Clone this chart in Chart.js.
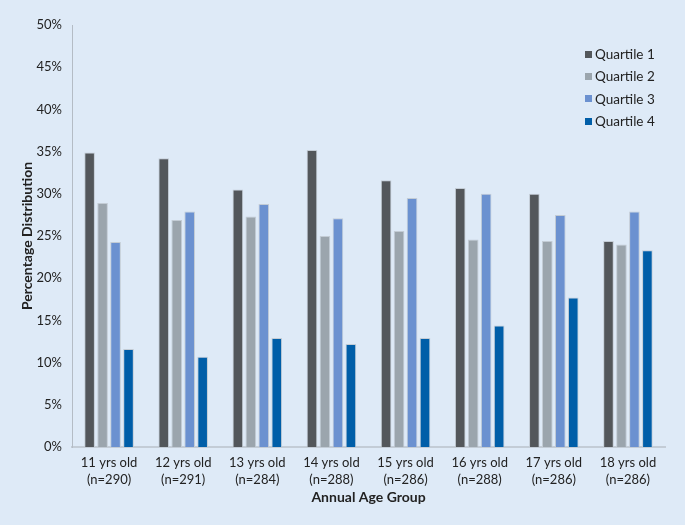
<!DOCTYPE html>
<html>
<head>
<meta charset="utf-8">
<script src="https://cdn.jsdelivr.net/npm/chart.js@4/dist/chart.umd.min.js"></script>
<style>
    html, body { margin: 0; padding: 0; background: #deeaf7; }
    #wrap { position: relative; width: 685px; height: 525px; }
    #legend { position: absolute; left: 585px; top: 43px; font-family: 'Lato', sans-serif; font-size: 13.5px; color: #222; }
    #legend div { height: 22.3px; display: flex; align-items: center; }
    #legend span.box { display: inline-block; width: 7px; height: 7px; margin-right: 3px; }
</style>
</head>
<body>
<div id="wrap">
    <canvas id="chart" width="685" height="525"></canvas>
    <div id="legend"></div>
</div>
<script>
// Data
const ageGroups = ['11 yrs old', '12 yrs old', '13 yrs old', '14 yrs old', '15 yrs old', '16 yrs old', '17 yrs old', '18 yrs old'];
const sampleSizes = ['(n=290)', '(n=291)', '(n=284)', '(n=288)', '(n=286)', '(n=288)', '(n=286)', '(n=286)'];
const quartile1 = [34.9, 34.2, 30.5, 35.2, 31.6, 30.7, 30.0, 24.4];
const quartile2 = [28.9, 26.9, 27.3, 25.0, 25.6, 24.6, 24.4, 24.0];
const quartile3 = [24.3, 27.9, 28.8, 27.1, 29.5, 30.0, 27.5, 27.9];
const quartile4 = [11.6, 10.7, 12.9, 12.2, 12.9, 14.4, 17.7, 23.3];
const yTicks = [0, 5, 10, 15, 20, 25, 30, 35, 40, 45, 50];

const seriesNames = ['Quartile 1', 'Quartile 2', 'Quartile 3', 'Quartile 4'];
const seriesColors = ['#53575b', '#9ba5ad', '#6b91d0', '#005ea8'];
const seriesData = [quartile1, quartile2, quartile3, quartile4];

const fontFamily = "'Lato', sans-serif";
const textColor = '#222';

const datasets = seriesNames.map((name, i) => ({
    label: name,
    data: seriesData[i],
    backgroundColor: seriesColors[i],
    borderColor: '#c3ccd5',
    borderWidth: 1,
    categoryPercentage: 0.7,
    barPercentage: 0.82
}));

const ctx = document.getElementById('chart').getContext('2d');
const chart = new Chart(ctx, {
    type: 'bar',
    data: {
        labels: ageGroups.map((g, i) => [g, sampleSizes[i]]),
        datasets: datasets
    },
    options: {
        responsive: false,
        animation: false,
        layout: {
            padding: { left: 16, top: 25, right: 20, bottom: 19 }
        },
        plugins: {
            legend: { display: false },
            tooltip: { enabled: false }
        },
        scales: {
            x: {
                grid: { display: false, drawTicks: false },
                border: { display: true, color: '#c3ccd6', width: 2 },
                ticks: {
                    color: textColor,
                    padding: 7,
                    maxRotation: 0,
                    font: { family: fontFamily, size: 13, lineHeight: 1.3 }
                },
                title: {
                    display: true,
                    text: 'Annual Age Group',
                    color: textColor,
                    padding: { top: 1, bottom: 0 },
                    font: { family: fontFamily, size: 14, weight: 'bold' }
                },
                afterFit: (scale) => { scale.height = 59; }
            },
            y: {
                min: 0,
                max: 50,
                afterBuildTicks: (scale) => { scale.ticks = yTicks.map(v => ({ value: v })); },
                grid: { display: false, drawTicks: false },
                border: { display: true, color: '#b4bcc5', width: 1 },
                ticks: {
                    color: textColor,
                    padding: 10,
                    font: { family: fontFamily, size: 13 },
                    callback: (v) => v + '%'
                },
                title: {
                    display: true,
                    text: 'Percentage Distribution',
                    color: textColor,
                    padding: 3,
                    font: { family: fontFamily, size: 14, weight: 'bold' }
                },
                afterFit: (scale) => { scale.width = 56; }
            }
        }
    }
});

// HTML legend (vertical, top right)
const legendEl = document.getElementById('legend');
seriesNames.forEach((name, i) => {
    const row = document.createElement('div');
    const box = document.createElement('span');
    box.className = 'box';
    box.style.background = seriesColors[i];
    row.appendChild(box);
    row.appendChild(document.createTextNode(name));
    legendEl.appendChild(row);
});
</script>
</body>
</html>
